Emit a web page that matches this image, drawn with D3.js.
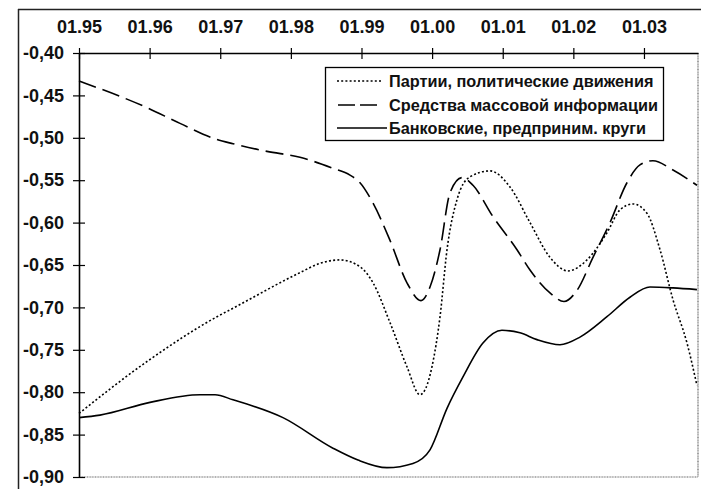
<!DOCTYPE html>
<html><head><meta charset="utf-8">
<script src="https://cdn.jsdelivr.net/npm/d3@7/dist/d3.min.js"></script>
<style>body{margin:0;background:#fff}svg{display:block}</style>
</head><body>
<svg id="c" width="709" height="489"></svg>
<script>
// tick labels
const xTickYears = [1995,1996,1997,1998,1999,2000,2001,2002,2003];
const xTickLabels = ["01.95","01.96","01.97","01.98","01.99","01.00","01.01","01.02","01.03"];
const yTicks = [-0.40,-0.45,-0.50,-0.55,-0.60,-0.65,-0.70,-0.75,-0.80,-0.85,-0.90];
const seriesNames = ["Партии, политические движения","Средства массовой информации","Банковские, предприним. круги"];

// Партии (dotted)
const partyT = [1995.000,1995.977,1996.954,1997.181,1998.129,1998.412,1998.696,1998.979,1999.163,1999.404,1999.644,1999.828,1999.998,2000.112,2000.211,2000.352,2000.536,2000.819,2001.103,2001.386,2001.669,2001.924,2002.193,2002.476,2002.660,2002.844,2003.042,2003.227,2003.411,2003.609,2003.750];
const partyV = [-0.825,-0.763,-0.711,-0.701,-0.659,-0.648,-0.644,-0.652,-0.671,-0.718,-0.770,-0.803,-0.770,-0.711,-0.632,-0.573,-0.546,-0.539,-0.558,-0.600,-0.641,-0.657,-0.644,-0.612,-0.585,-0.578,-0.589,-0.632,-0.691,-0.742,-0.792];
// СМИ (dashed)
const mediaT = [1995.000,1995.977,1996.430,1996.954,1997.181,1997.662,1998.129,1998.596,1998.837,1998.979,1999.163,1999.404,1999.644,1999.842,1999.970,2000.112,2000.253,2000.423,2000.579,2000.862,2001.202,2001.386,2001.669,2001.867,2002.051,2002.278,2002.519,2002.759,2002.943,2003.127,2003.411,2003.750];
const mediaV = [-0.433,-0.465,-0.483,-0.502,-0.507,-0.516,-0.523,-0.536,-0.544,-0.553,-0.577,-0.621,-0.671,-0.692,-0.676,-0.632,-0.565,-0.547,-0.556,-0.593,-0.632,-0.656,-0.683,-0.693,-0.680,-0.641,-0.600,-0.553,-0.532,-0.527,-0.538,-0.556];
// Банковские (solid)
const bankT = [1995.000,1995.297,1996.005,1996.713,1996.926,1997.181,1997.888,1998.596,1998.950,1999.361,1999.729,1999.970,2000.211,2000.437,2000.720,2000.989,2001.244,2001.485,2001.811,2002.094,2002.476,2002.802,2003.085,2003.411,2003.750];
const bankV = [-0.830,-0.827,-0.812,-0.803,-0.803,-0.809,-0.830,-0.866,-0.880,-0.889,-0.884,-0.868,-0.819,-0.782,-0.742,-0.727,-0.730,-0.738,-0.744,-0.735,-0.711,-0.688,-0.676,-0.677,-0.679];

const svg = d3.select("#c");
const L = 79, R = 698, T = 53, B = 477;
const x = d3.scaleLinear().domain([1995, 2003.765]).range([L, R]);
const y = d3.scaleLinear().domain([-0.40, -0.90]).range([T, B]);
const FONT = "Liberation Sans, Arial, sans-serif";

// outer frame
svg.append("line").attr("x1",18).attr("x2",701).attr("y1",9.5).attr("y2",9.5).attr("stroke","#222").attr("stroke-width",1.5);
svg.append("line").attr("x1",18.5).attr("x2",18.5).attr("y1",9).attr("y2",489).attr("stroke","#222").attr("stroke-width",1.5);

// plot border right & bottom
svg.append("line").attr("x1",R).attr("x2",R).attr("y1",T).attr("y2",B).attr("stroke","#666").attr("stroke-width",1.2).attr("stroke-dasharray","1,0.6");
svg.append("line").attr("x1",L).attr("x2",R).attr("y1",B).attr("y2",B).attr("stroke","#666").attr("stroke-width",1.2).attr("stroke-dasharray","1,0.6");

// top axis
const xAxis = d3.axisTop(x).tickValues(xTickYears).tickFormat((d,i)=>xTickLabels[i]).tickSizeInner(5).tickSizeOuter(0).tickPadding(20);
const gx = svg.append("g").attr("transform",`translate(0,${T})`).call(xAxis);
gx.select(".domain").attr("stroke","#000").attr("stroke-width",1.6);
gx.selectAll(".tick line").attr("y1",6).attr("y2",-5).attr("stroke","#000").attr("stroke-width",1.2);
gx.selectAll(".tick text").attr("font-family",FONT).attr("font-size",18).attr("font-weight","bold").attr("fill","#111").attr("y",-20);

// left axis
const yAxis = d3.axisLeft(y).tickValues(yTicks).tickFormat(d=>d3.format(".2f")(d).replace(".",",").replace("−","-")).tickSizeInner(5).tickSizeOuter(0).tickPadding(10);
const gy = svg.append("g").attr("transform",`translate(${L},0)`).call(yAxis);
gy.select(".domain").attr("stroke","#000").attr("stroke-width",1.6);
gy.selectAll(".tick line").attr("x1",6).attr("x2",-6).attr("stroke","#000").attr("stroke-width",1.2);
gy.selectAll(".tick text").attr("font-family",FONT).attr("font-size",18).attr("font-weight","bold").attr("fill","#111").attr("x",-15);

// lines
const line = d3.line().x(d=>x(d[0])).y(d=>y(d[1])).curve(d3.curveMonotoneX);
const styles = [
  {t:partyT, v:partyV, dash:"2,2.2", w:1.6},
  {t:mediaT, v:mediaV, dash:"18,7", w:1.6},
  {t:bankT, v:bankV, dash:null, w:1.6}
];
styles.forEach(s=>{
  const p = svg.append("path").datum(s.t.map((t,i)=>[t,s.v[i]]))
    .attr("d",line).attr("fill","none").attr("stroke","#000").attr("stroke-width",s.w);
  if (s.dash) p.attr("stroke-dasharray",s.dash);
});

// legend
const lg = svg.append("g");
lg.append("rect").attr("x",325.5).attr("y",67.5).attr("width",338).attr("height",73).attr("fill","#fff").attr("stroke","#000").attr("stroke-width",1.3);
const rowsY = [81,105,128];
const samples = [
  {x1:337,x2:381,dash:"2,2.2"},
  {x1:338,x2:381,dash:"17,5"},
  {x1:337,x2:387,dash:null}
];
seriesNames.forEach((n,i)=>{
  const ln = lg.append("line").attr("x1",samples[i].x1).attr("x2",samples[i].x2).attr("y1",rowsY[i]).attr("y2",rowsY[i]).attr("stroke","#000").attr("stroke-width",1.6);
  if (samples[i].dash) ln.attr("stroke-dasharray",samples[i].dash);
  lg.append("text").attr("x",389).attr("y",rowsY[i]).attr("dy","0.36em").attr("font-family",FONT).attr("font-size",16.3).attr("font-weight","bold").attr("fill","#111").text(n);
});
</script>
</body></html>
